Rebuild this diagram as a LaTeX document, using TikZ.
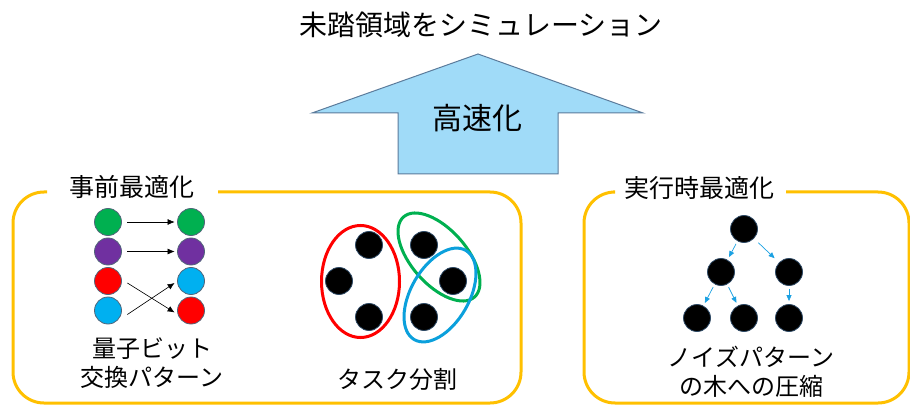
\documentclass[tikz,border=0pt]{standalone}
\usepackage{fontspec}
\setmainfont{Noto Sans CJK JP}
\usetikzlibrary{shapes.geometric,arrows.meta,calc}
\definecolor{frameor}{HTML}{FFC000}
\definecolor{arrfill}{HTML}{A0DBF8}
\definecolor{arredge}{HTML}{5B7B9B}
\definecolor{qgreen}{HTML}{00B050}
\definecolor{qpurple}{HTML}{7030A0}
\definecolor{qred}{HTML}{FF0000}
\definecolor{qcyan}{HTML}{00B0F0}
\definecolor{qedge}{HTML}{51657A}
\definecolor{dotedge}{HTML}{2E4A66}
\definecolor{tblue}{HTML}{1BA1E2}
\definecolor{eblue}{HTML}{0BA0DC}
\begin{document}
\begin{tikzpicture}[x=1pt,y=-1pt,
  frame/.style={draw=frameor,line width=3pt,rounded corners=31pt},
  lbl/.style={font=\fontsize{24}{29}\selectfont,align=center,inner sep=0pt,text=black},
  hdr/.style={font=\fontsize{25}{30}\selectfont,inner sep=0pt,text=black},
  qubit/.style={circle,minimum size=27pt,inner sep=0pt,draw=qedge,line width=0.8pt},
  dot/.style={circle,minimum size=27pt,inner sep=0pt,fill=black,draw=dotedge,line width=0.8pt},
  qarr/.style={-{Latex[length=7pt,width=6pt]},line width=0.6pt,black},
  tarr/.style={-{Triangle[length=6pt,width=5pt]},line width=0.7pt,tblue,shorten <=3pt,shorten >=3pt},
  grp/.style={ellipse,draw,line width=3pt,inner sep=0pt}
]
\useasboundingbox (0,0) rectangle (910,406);

% title and big arrow
\node[font=\fontsize{28}{32}\selectfont,inner sep=0pt] (title) at (481,25) {未踏領域をシミュレーション};
\draw[fill=arrfill,draw=arredge,line width=1pt]
  (478,54) -- (643,113) -- (558,113) -- (558,174) -- (398,174) -- (398,113) -- (312,113) -- cycle;
\node[font=\fontsize{30}{34}\selectfont,inner sep=0pt] (speed) at (477,118) {高速化};

% frames
\draw[frame] (47,192) -- (13,192) -- (13,403) -- (521,403) -- (521,192) -- (218,192);
\node[hdr] (pre) at (132,187) {事前最適化};
\draw[frame] (613,192) -- (584,192) -- (584,403) -- (909,403) -- (909,192) -- (786,192);
\node[hdr] (run) at (699,188) {実行時最適化};

% qubit swap pattern
\node[qubit,fill=qgreen]  (q1) at (108,222) {};
\node[qubit,fill=qpurple] (q2) at (108,251.5) {};
\node[qubit,fill=qred]    (q3) at (108,281) {};
\node[qubit,fill=qcyan]   (q4) at (108,310.5) {};
\node[qubit,fill=qgreen]  (r1) at (191,222) {};
\node[qubit,fill=qpurple] (r2) at (191,251.5) {};
\node[qubit,fill=qcyan]   (r3) at (191,281) {};
\node[qubit,fill=qred]    (r4) at (191,310.5) {};
\draw[qarr] ($(q1.east)+(5.5,0)$) -- ($(r1.west)+(-2.5,0)$);
\draw[qarr] ($(q2.east)+(5.5,0)$) -- ($(r2.west)+(-2.5,0)$);
\draw[qarr] ($(q3.east)+(5.5,2)$) -- ($(r4.west)+(-2.5,2)$);
\draw[qarr] ($(q4.east)+(5.5,4)$) -- ($(r3.west)+(-2.5,2)$);
\node[lbl] (qlab) at (152,363.5) {量子ビット\\交換パターン};

% task split
\node[dot] (d1) at (369,245) {};
\node[dot] (d2) at (339,281) {};
\node[dot] (d3) at (369,317) {};
\node[dot] (d4) at (424,245) {};
\node[dot] (d5) at (453,281) {};
\node[dot] (d6) at (424,317) {};
\node[grp,draw=qred,minimum width=78pt,minimum height=112pt] (er) at (360.5,281.5) {};
\node[grp,draw=qgreen,minimum width=107pt,minimum height=55pt,rotate=-48.5] (eg) at (439,257) {};
\node[grp,draw=eblue,minimum width=103pt,minimum height=58pt,rotate=60] (eb) at (440,295) {};
\node[lbl] (tlab) at (397,379) {タスク分割};

% noise tree
\node[dot] (t0) at (744,229) {};
\node[dot] (t1) at (721,272) {};
\node[dot] (t2) at (789,272) {};
\node[dot] (t3) at (697,318) {};
\node[dot] (t4) at (744,318) {};
\node[dot] (t5) at (789,318) {};
\draw[tarr] (t0) -- (t1);
\draw[tarr,shorten <=6pt,shorten >=6pt] (t0) -- (t2);
\draw[tarr] (t1) -- (t3);
\draw[tarr] (t1) -- (t4);
\draw[tarr] (t2) -- (t5);
\node[lbl] (nlab) at (751,372) {ノイズパターン\\の木への圧縮};
\end{tikzpicture}
\end{document}
